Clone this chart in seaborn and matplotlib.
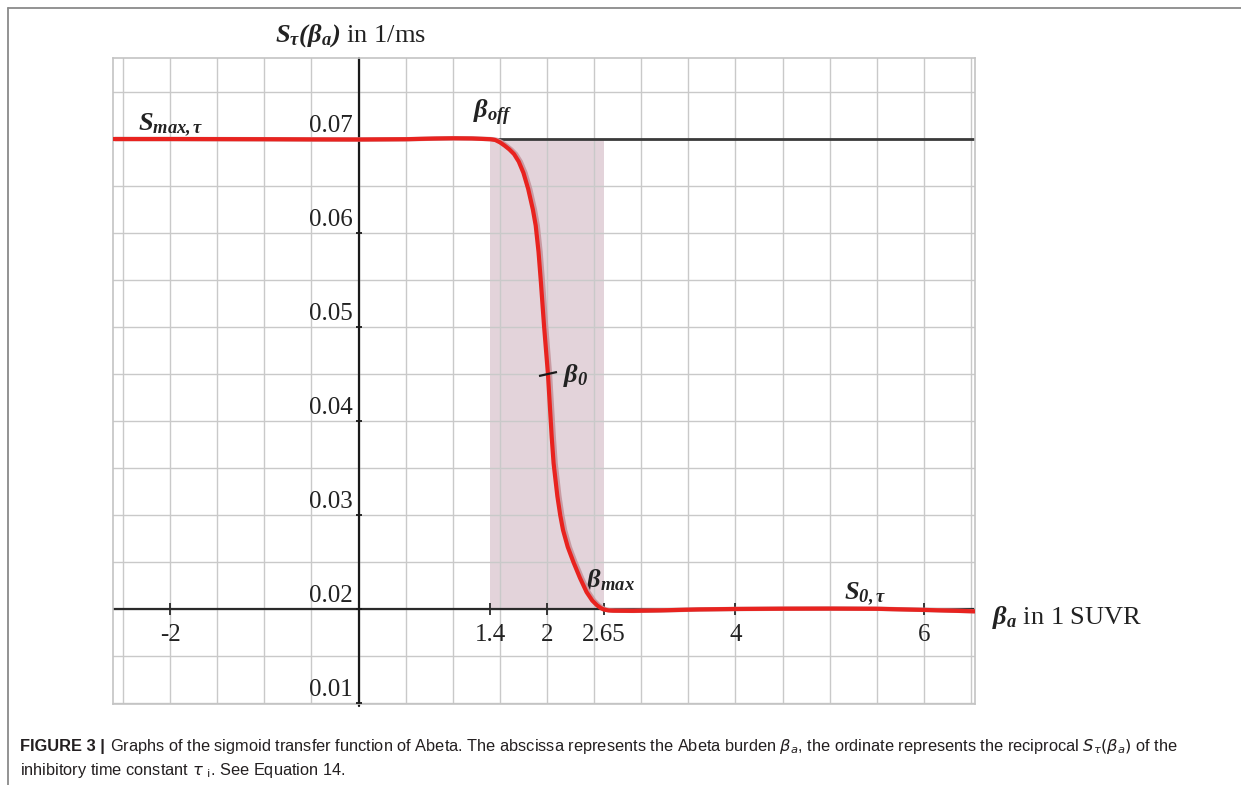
import numpy as np
import pandas as pd
import matplotlib
matplotlib.use("Agg")
import matplotlib.pyplot as plt
import seaborn as sns
from matplotlib.ticker import MultipleLocator
from matplotlib.lines import Line2D
from matplotlib.markers import MarkerStyle
from matplotlib.transforms import Affine2D, offset_copy

# ---------------- data ----------------
beta_a = [-2.61, -2.0, -1.0, -0.5, 0.0, 0.5, 0.8, 1.0, 1.2, 1.4, 1.45, 1.5,
          1.55, 1.6, 1.65, 1.7, 1.75, 1.8, 1.85, 1.88, 1.91, 1.935, 1.968,
          2.01, 2.05, 2.07, 2.11, 2.14, 2.17, 2.22, 2.28, 2.35, 2.42, 2.48,
          2.53, 2.57, 2.60, 2.65, 2.70, 2.90, 3.20, 3.60, 4.00, 4.50, 5.00,
          5.50, 6.00, 6.54]
S_tau = [0.07000, 0.07000, 0.06998, 0.06996, 0.06995, 0.06998, 0.07005,
         0.07008, 0.07006, 0.06998, 0.06990, 0.06965, 0.06930, 0.06890,
         0.06840, 0.06760, 0.06640, 0.06470, 0.06250, 0.06080, 0.05800,
         0.05480, 0.05020, 0.04500, 0.03830, 0.03550, 0.03200, 0.03000,
         0.02840, 0.02660, 0.02500, 0.02330, 0.02180, 0.02090, 0.02040,
         0.02010, 0.01995, 0.01985, 0.01982, 0.01980, 0.01985, 0.01995,
         0.02000, 0.02003, 0.02004, 0.02002, 0.01990, 0.01975]

x_ticks = [-2, 1.4, 2, 2.6, 4, 6]
x_tick_labels = ["-2", "1.4", "2", "2.65", "4", "6"]
y_ticks = [0.01, 0.02, 0.03, 0.04, 0.05, 0.06, 0.07]
y_tick_labels = ["0.01", "0.02", "0.03", "0.04", "0.05", "0.06", "0.07"]

S_max = 0.07
S_0 = 0.02
beta_off = 1.4
beta_max_pos = 2.6
beta_0 = 2.01
S_at_beta0 = 0.0450

df = pd.DataFrame({"beta_a": beta_a, "S_tau": S_tau})

# ---------------- style ----------------
sns.set_theme(style="white")
plt.rcParams["font.family"] = ["Liberation Serif", "DejaVu Serif"]
plt.rcParams["mathtext.fontset"] = "custom"
plt.rcParams["mathtext.rm"] = "Liberation Serif"
plt.rcParams["mathtext.it"] = "Liberation Serif:italic"
plt.rcParams["mathtext.bf"] = "Liberation Serif:bold"
plt.rcParams["mathtext.bfit"] = "Liberation Serif:italic:bold"

W, H = 1241, 785
fig = plt.figure(figsize=(W / 100, H / 100), dpi=100)
fig.patch.set_facecolor("white")

ax_l, ax_r, ax_t, ax_b = 112.7, 974.7, 58.3, 704.0
ax = fig.add_axes([ax_l / W, 1 - ax_b / H, (ax_r - ax_l) / W, (ax_b - ax_t) / H])
y_lo, y_hi = 0.00989, 0.07859
ax.set_xlim(-2.61, 6.54)
ax.set_ylim(y_lo, y_hi)

# grid
ax.xaxis.set_major_locator(MultipleLocator(0.5))
ax.yaxis.set_major_locator(MultipleLocator(0.005))
ax.set_axisbelow(True)
ax.grid(True, color="#c9c9c9", lw=1.0)
ax.tick_params(length=0, labelbottom=False, labelleft=False)
for s in ax.spines.values():
    s.set_color("#c4c4c4")
    s.set_linewidth(1.2)

# shaded transition region
ax.axvspan(beta_off, beta_max_pos, ymin=(S_0 - y_lo) / (y_hi - y_lo),
           ymax=(S_max - y_lo) / (y_hi - y_lo),
           color="#e3d3da", zorder=0.3, lw=0)

# axes lines
ax.axhline(S_0, color="#2a2a2a", lw=1.6, zorder=2)
ax.axvline(0, ymin=-0.003, color="#1a1a1a", lw=1.6, zorder=2, clip_on=False)
ax.plot([beta_off, 6.54], [S_max, S_max], color="#3a3a3a", lw=2.0, zorder=2,
        solid_capstyle="butt")

# tick marks
ax.plot(x_ticks, [S_0] * len(x_ticks), ls="none", marker="|", ms=8,
        mew=1.3, color="#2a2a2a", zorder=3)
ax.plot([0] * len(y_ticks), y_ticks, ls="none", marker=MarkerStyle("_"),
        ms=5, mew=1.3, color="#1a1a1a", zorder=3, clip_on=False)

# curve: soft shadow + red line
shadow_tr = offset_copy(ax.transData, fig=fig, x=2.0, y=0, units="dots")
ax.plot(beta_a, S_tau, color="#c99aa2", lw=3.2, zorder=3.5,
        transform=shadow_tr, solid_capstyle="butt", solid_joinstyle="round")
sns.lineplot(data=df, x="beta_a", y="S_tau", ax=ax, color="#e8231f",
             lw=3.0, zorder=4, sort=False, estimator=None,
             solid_joinstyle="round")
ax.set_xlabel("")
ax.set_ylabel("")

# beta_0 marker on the curve
ax.plot([beta_0], [S_at_beta0], ls="none",
        marker=MarkerStyle("_", transform=Affine2D().rotate_deg(13)),
        ms=14, mew=1.6, color="#1a1a1a", zorder=5)

# tick labels
fs = 18
for xv, lab in zip(x_ticks, x_tick_labels):
    ax.annotate(lab, (xv, S_0), xytext=(0, -11), textcoords="offset points",
                ha="center", va="top", fontsize=fs, color="#222222")
for yv, lab in zip(y_ticks, y_tick_labels):
    ax.annotate(lab, (0, yv), xytext=(-4, 1.5), textcoords="offset points",
                ha="right", va="bottom", fontsize=fs, color="#222222")

# annotations
lab_kw = dict(fontsize=19, color="#222222", ha="left", va="baseline")
ax.text(-2.34, 0.07088, r"$\mathbfit{S}_{\mathbfit{max,\tau}}$", **lab_kw)
ax.text(1.215, 0.07223, r"$\mathbfit{\beta}_{\mathbfit{off}}$", **lab_kw)
ax.text(2.17, 0.04415, r"$\mathbfit{\beta}_{\mathbfit{0}}$", **lab_kw)
ax.text(2.414, 0.02237, r"$\mathbfit{\beta}_{\mathbfit{max}}$", **lab_kw)
ax.text(5.155, 0.02103, r"$\mathbfit{S}_{\mathbfit{0,\tau}}$", **lab_kw)
ax.text(6.72, 0.0184, r"$\mathbfit{\beta}_{\mathbfit{a}}$ in 1 SUVR",
        clip_on=False, **lab_kw)
ax.text(-0.885, 0.08035,
        r"$\mathbfit{S}_{\mathbfit{\tau}}\mathbfit{(\beta}_{\mathbfit{a}}\mathbfit{)}$ in 1/ms",
        clip_on=False, **lab_kw)

# figure frame lines
fig.add_artist(Line2D([8 / W, 8 / W], [0, 1 - 8 / H], color="#8a8a8a", lw=1.3))
fig.add_artist(Line2D([8 / W, 1], [1 - 8 / H, 1 - 8 / H], color="#8a8a8a", lw=1.3))

# caption
cap_fs = 11.8
cap_kw = dict(fontsize=cap_fs, color="#231f20", family=["Liberation Sans", "DejaVu Sans"],
              math_fontfamily="dejavusans", va="baseline", ha="left")
y1 = 1 - 751 / H
y2 = 1 - 775 / H
t1 = fig.text(20 / W, y1, "FIGURE 3 |", fontweight="bold", **cap_kw)
fig.canvas.draw()
bb = t1.get_window_extent()
fig.text((bb.x1 + 5) / W, y1,
         r"Graphs of the sigmoid transfer function of Abeta. The abscissa represents the Abeta burden $\beta_a$, "
         r"the ordinate represents the reciprocal $S_\tau(\beta_a)$ of the", **cap_kw)
fig.text(20 / W, y2, r"inhibitory time constant $\tau$ $_{\mathrm{i}}$. See Equation 14.", **cap_kw)

fig.savefig("out.png", dpi=100, facecolor="white")
